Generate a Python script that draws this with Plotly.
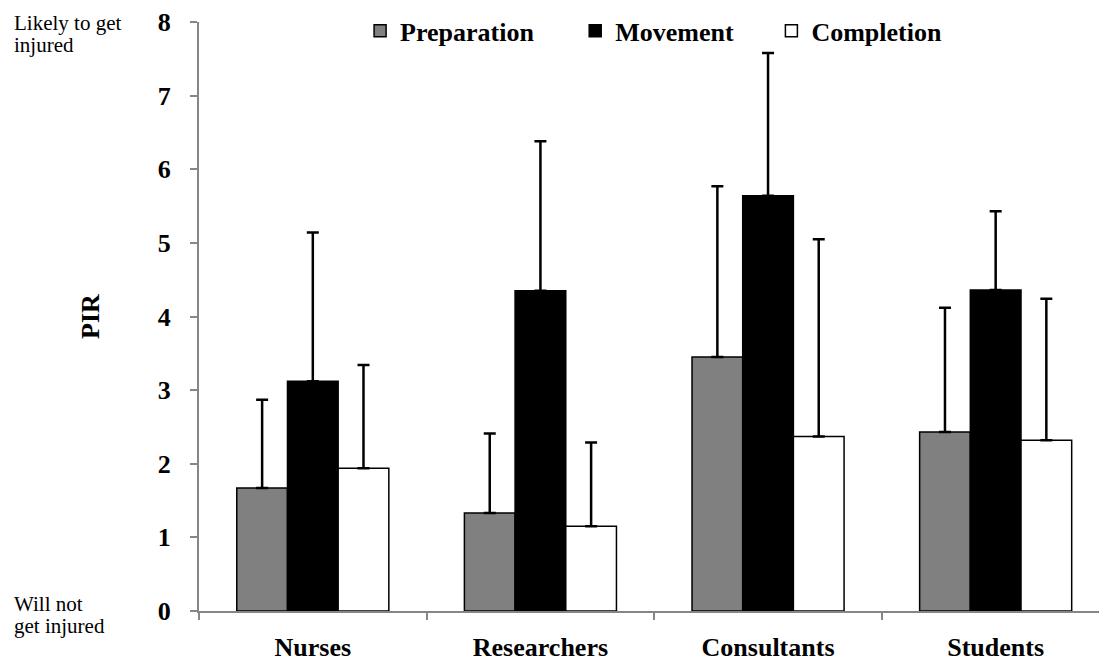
import plotly.graph_objects as go

# Perceived injury risk (PIR) by group and task phase
groups = ["Nurses", "Researchers", "Consultants", "Students"]

preparation = [1.67, 1.33, 3.45, 2.43]
preparation_sd = [1.20, 1.08, 2.32, 1.69]

movement = [3.12, 4.35, 5.64, 4.36]
movement_sd = [2.02, 2.03, 1.94, 1.07]

completion = [1.94, 1.15, 2.37, 2.32]
completion_sd = [1.40, 1.14, 2.68, 1.92]

y_ticks = [0, 1, 2, 3, 4, 5, 6, 7, 8]

SERIF = "Liberation Serif, Times New Roman, serif"
AXIS_GREY = "#868686"
BOLD = dict(family=SERIF, size=26, color="#000000", weight="bold")

series = [
    ("Preparation", preparation, preparation_sd, "#808080", "legend"),
    ("Movement", movement, movement_sd, "#000000", "legend2"),
    ("Completion", completion, completion_sd, "#ffffff", "legend3"),
]

fig = go.Figure()
for name, vals, sd, colour, leg in series:
    fig.add_trace(go.Bar(
        name=name,
        x=groups,
        y=vals,
        showlegend=True,
        marker=dict(color=colour, line=dict(color="#000000", width=1.5)),
        error_y=dict(
            type="data",
            array=sd,
            arrayminus=[0] * len(sd),
            symmetric=False,
            color="#000000",
            thickness=2.5,
            width=6,
        ),
        legend=leg,
    ))

legend_style = dict(
    orientation="h",
    yanchor="middle",
    y=0.985,
    xanchor="left",
    font=BOLD,
    bgcolor="rgba(0,0,0,0)",
    itemwidth=30,
)

fig.update_layout(
    width=1099,
    height=664,
    margin=dict(l=199, r=0, t=22, b=53, autoexpand=False),
    paper_bgcolor="#ffffff",
    plot_bgcolor="#ffffff",
    barmode="group",
    bargap=0.332,
    bargroupgap=0,
    showlegend=True,
    font=dict(family=SERIF, color="#000000"),
    legend=dict(legend_style, x=0.179),
    legend2=dict(legend_style, x=0.418),
    legend3=dict(legend_style, x=0.636),
    xaxis=dict(
        range=[-0.5, 3.454],
        automargin=False,
        showline=True,
        linecolor=AXIS_GREY,
        linewidth=2,
        ticks="outside",
        tickson="boundaries",
        ticklen=7,
        tickwidth=1.5,
        tickcolor=AXIS_GREY,
        ticklabelstandoff=12,
        tickfont=BOLD,
        showgrid=False,
        zeroline=False,
    ),
    yaxis=dict(
        range=[0, 8],
        automargin=False,
        tickvals=y_ticks,
        showline=True,
        linecolor=AXIS_GREY,
        linewidth=2,
        ticks="outside",
        ticklen=7,
        tickwidth=1.5,
        tickcolor=AXIS_GREY,
        ticklabelstandoff=14,
        tickfont=BOLD,
        showgrid=False,
        zeroline=False,
        title=dict(text="PIR", font=BOLD, standoff=51),
    ),
)

# Scale-end descriptors beside the y axis
side_notes = [
    ("Likely to get", 23),
    ("injured", 45),
    ("Will not", 604),
    ("get injured", 626),
]
for text, px in side_notes:
    fig.add_annotation(
        text=text,
        xref="paper", yref="paper",
        x=-199 / 900 + 12 / 900, y=(611 - px) / 589,
        xanchor="left", yanchor="middle",
        showarrow=False,
        font=dict(family=SERIF, size=21, color="#000000"),
    )

fig.write_html("out.html")
